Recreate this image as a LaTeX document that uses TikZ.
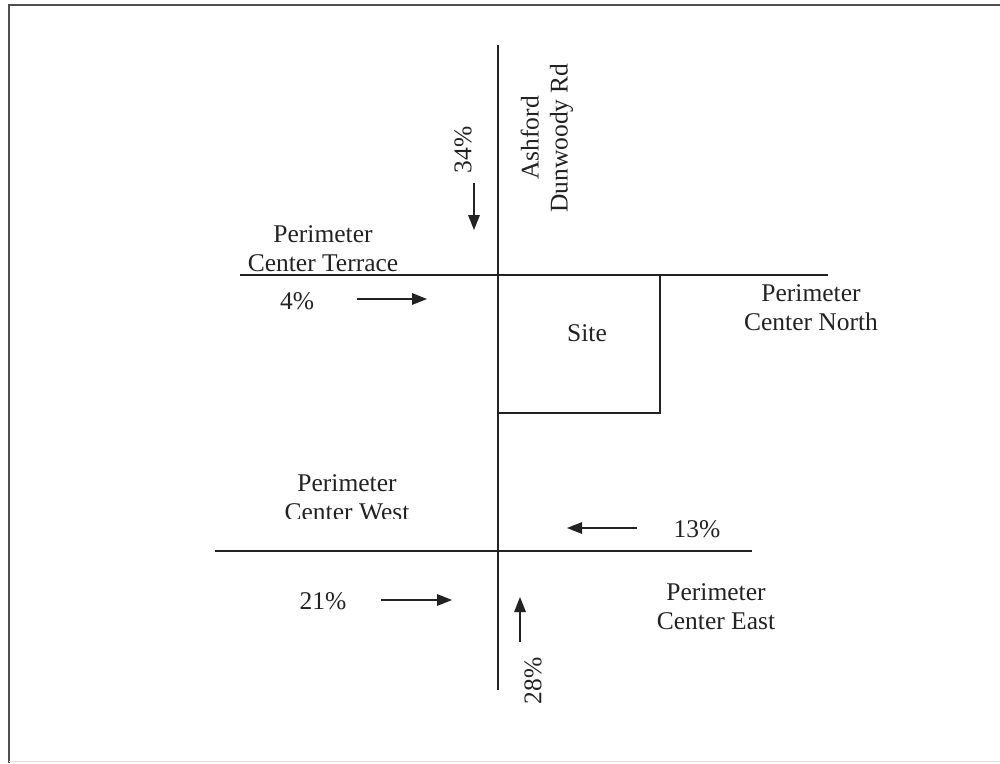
\documentclass[tikz,border=0pt]{standalone}
\usepackage{fontspec}
\setmainfont{Liberation Serif}
\usetikzlibrary{arrows.meta}
\definecolor{ink}{HTML}{222222}
\definecolor{framecol}{HTML}{505050}
\begin{document}
\begin{tikzpicture}[x=1pt,y=-1pt,
  every node/.style={inner sep=0pt, text=ink, font=\fontsize{25.5}{29}\selectfont},
  road/.style={line width=1.5pt, draw=ink},
  flow/.style={line width=1.5pt, draw=ink, -{Triangle[length=15pt,width=11.5pt]}},
  lbl/.style={align=center}]
\useasboundingbox (0,0) rectangle (1000,763);

% page frame
\coordinate (fTL) at (9,5);
\coordinate (fTR) at (1000,5);
\coordinate (fBL) at (9,763);
\draw[framecol, line width=2.4pt] (fTR) -- (fTL) -- (fBL);
\coordinate (fBL2) at (9,761);
\coordinate (fBR2) at (1000,761);
\draw[gray!25, line width=1pt] (fBL2) -- (fBR2);

% roads
\coordinate (adN) at (498,45);
\coordinate (adS) at (498,690);
\coordinate (ptW) at (240,275);
\coordinate (pnE) at (828,275);
\coordinate (pwW) at (215,551);
\coordinate (peE) at (752,551);
\draw[road] (adN) -- (adS);
\draw[road] (ptW) -- (pnE);
\draw[road] (pwW) -- (peE);

% site parcel
\coordinate (siteNW) at (498,275);
\coordinate (siteSE) at (660,413);
\draw[road] (siteNW) rectangle (siteSE);
\node (site) at (587,333) {Site};

% road names
\node[lbl, rotate=90] (ashford) at (547,138) {Ashford\\Dunwoody Rd};
\node[lbl] (pct) at (323,249) {Perimeter\\Center Terrace};
\node[lbl] (pcn) at (811,308) {Perimeter\\Center North};
\begin{scope}
  \clip (200,440) rectangle (480,518);
  \node[lbl] (pcw) at (347,498) {Perimeter\\Center West};
\end{scope}
\node[lbl] (pce) at (716,607) {Perimeter\\Center East};

% traffic distribution
\node[rotate=90] (p34) at (463,150) {34\%};
\coordinate (a34s) at (474,183);
\coordinate (a34e) at (474,230);
\draw[flow] (a34s) -- (a34e);

\node (p4) at (297,301) {4\%};
\coordinate (a4s) at (357,299);
\coordinate (a4e) at (427,299);
\draw[flow] (a4s) -- (a4e);

\node (p13) at (697,529) {13\%};
\coordinate (a13s) at (637,528);
\coordinate (a13e) at (567,528);
\draw[flow] (a13s) -- (a13e);

\node (p21) at (323,601) {21\%};
\coordinate (a21s) at (381,600);
\coordinate (a21e) at (452,600);
\draw[flow] (a21s) -- (a21e);

\node[rotate=90] (p28) at (533,681) {28\%};
\coordinate (a28s) at (520,642);
\coordinate (a28e) at (520,597);
\draw[flow] (a28s) -- (a28e);
\end{tikzpicture}
\end{document}
